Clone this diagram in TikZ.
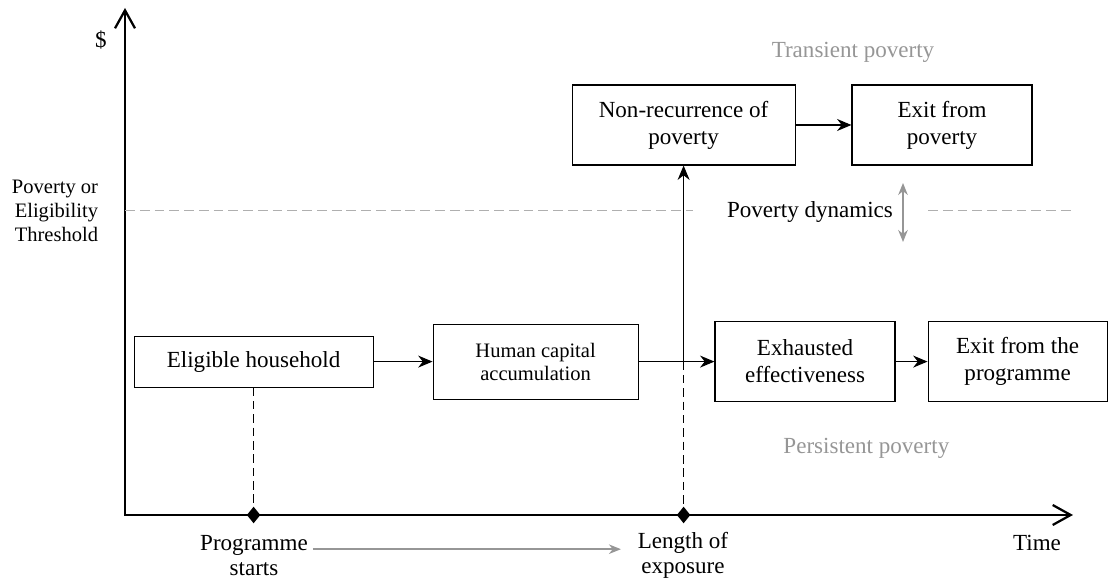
\documentclass[tikz,border=0pt]{standalone}
\usepackage{fontspec}
\setmainfont{Liberation Serif}
\usetikzlibrary{shapes.geometric, arrows.meta, positioning, calc}
\definecolor{softgray}{RGB}{150, 150, 150}
\definecolor{linegray}{RGB}{175, 175, 175}

\begin{document}
\begin{tikzpicture}[
        stage/.style={rectangle, draw=black, fill=white, line width=0.8pt, align=center, inner sep=2pt, minimum height=2cm, font=\fontsize{16.4}{19.2}\selectfont},
        flow/.style={-{Stealth[length=0.36cm, width=0.3cm]}, line width=0.8pt},
        axis/.style={{Straight Barb[length=0.45cm, width=0.5cm]}-{Straight Barb[length=0.45cm, width=0.5cm]}, line width=1.6pt, line join=miter},
        drop/.style={line width=1.1pt, dash pattern=on 6pt off 3.5pt},
        threshold/.style={draw=linegray, line width=0.7pt, dash pattern=on 7pt off 3.5pt},
        span/.style={-{Stealth[length=0.3cm, width=0.24cm]}, draw=softgray, line width=1pt},
        marker/.style={diamond, fill=black, inner sep=0pt, minimum width=0.34cm, minimum height=0.42cm},
        axistext/.style={align=center, font=\fontsize{16.4}{17.8}\selectfont},
        note/.style={text=softgray, font=\fontsize{16.4}{19.2}\selectfont}
    ]
        \useasboundingbox (0, 0) rectangle (27.85, 14.5);

        % Axes
        \coordinate (origin) at (3.125, 1.625);
        \coordinate (ytop) at (3.125, 14.3);
        \coordinate (xend) at (26.825, 1.625);
        \draw[axis] (ytop) -- (origin) -- (xend);
        \node (dollar) at (2.525, 13.5) {\fontsize{16.4}{19.2}\selectfont\$};
        \node[anchor=east, align=right, font=\fontsize{14.6}{17}\selectfont] (thresh) at (2.575, 9.225) {Poverty or\\Eligibility\\Threshold};

        % Threshold
        \draw[threshold] (origin |- thresh) -- (17.325, 9.225);
        \draw[threshold] (23.2, 9.225) -- (26.875, 9.225);
        \node[note] (transient) at (21.325, 13.2) {Transient poverty};
        \node[note] (persistent) at (21.66, 3.3) {Persistent poverty};
        \node[font=\fontsize{16.4}{19.2}\selectfont] (dynamics) at (20.25, 9.2) {Poverty dynamics};
        \coordinate (dynup) at (22.575, 9.925);
        \coordinate (dyndown) at (22.575, 8.45);
        \draw[span, {Stealth[length=0.3cm, width=0.24cm]}-{Stealth[length=0.3cm, width=0.24cm]}] (dynup) -- (dyndown);

        % Nodes
        \node[stage, minimum width=5.975cm, minimum height=1.275cm] (household) at (6.34, 5.46) {Eligible household};
        \node[stage, minimum width=5.125cm, minimum height=1.875cm, font=\fontsize{14.6}{16.4}\selectfont] (capital) at (13.39, 5.46) {Human capital\\accumulation};
        \node[stage, minimum width=4.5cm] (exhausted) at (20.125, 5.46) {Exhausted\\effectiveness};
        \node[stage, minimum width=4.475cm] (exitprog) at (25.44, 5.46) {Exit from the\\programme};
        \node[stage, minimum width=5.575cm] (nonrec) at (17.09, 11.375) {Non-recurrence of\\poverty};
        \node[stage, minimum width=4.5cm] (exitpov) at (23.55, 11.375) {Exit from\\poverty};

        % Edges
        \coordinate (split) at (nonrec |- capital.east);
        \draw[flow] (household) -- (capital);
        \draw[flow] (capital) -- (exhausted);
        \draw[flow] (exhausted) -- (exitprog);
        \draw[flow] (split) -- (nonrec);
        \draw[flow] (nonrec) -- (exitpov);

        % Time markers
        \draw[drop] (household.south) -- (household |- origin);
        \draw[drop] (split) -- (split |- origin);
        \node[marker] (start) at (household |- origin) {};
        \node[marker] (expo) at (split |- origin) {};
        \node[axistext] (startlbl) at (6.35, 0.61) {Programme\\starts};
        \node[axistext] (expolbl) at (17.075, 0.61) {Length of\\exposure};
        \node[axistext] (timelbl) at (25.925, 0.925) {Time};
        \draw[span, shorten >=0.3cm] ([yshift=0.16cm]startlbl.east) -- ([yshift=0.16cm]expolbl.west);

    \end{tikzpicture}
\end{document}
